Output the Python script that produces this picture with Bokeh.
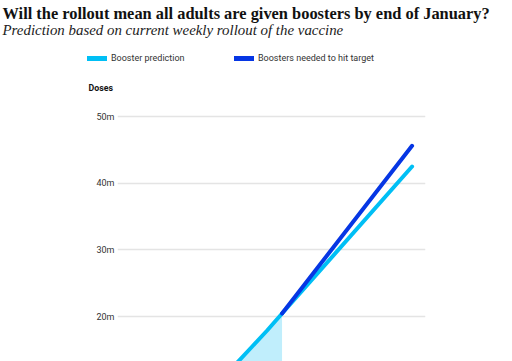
import pandas as pd
from bokeh.plotting import figure
from bokeh.layouts import column
from bokeh.models import Range1d, FixedTicker, Label, Legend, LegendItem
from bokeh.embed import file_html
from bokeh.resources import INLINE

# ---- data ----
actual_dates = ["2021-10-27", "2021-11-03", "2021-11-10", "2021-11-17", "2021-11-24", "2021-12-01"]
actual_doses = [7.9, 10.5, 13.1, 15.5, 17.9, 20.45]
proj_dates = ["2021-12-01", "2022-01-31"]
predicted = [20.45, 42.5]
needed = [20.45, 45.6]
y_ticks = [20, 30, 40, 50]
y_tick_labels = ["20m", "30m", "40m", "50m"]
series_names = ["Booster prediction", "Boosters needed to hit target"]

LIGHT = "#00bff5"
DARK = "#0636e4"
FILL = "#c0eefc"
SANS = "Roboto"
SERIF = "'Liberation Serif', serif"
NAN = float("nan")

ad = pd.to_datetime(actual_dates)
pdt = pd.to_datetime(proj_dates)

x_start = pd.Timestamp("2021-12-01") - pd.Timedelta(days=77.2)
x_end = x_start + pd.Timedelta(days=144.5)

# ---- header (title, subtitle, legend, axis title) ----
HEAD_H = 102
head = figure(width=512, height=HEAD_H, output_backend="svg", toolbar_location=None,
              x_range=Range1d(0, 1), y_range=Range1d(0, 1),
              min_border_left=0, min_border_right=0, min_border_top=0, min_border_bottom=0,
              x_axis_location=None, y_axis_location=None, frame_align=False)
head.outline_line_color = None
head.grid.visible = False


def lab(text, x, y, size, style="normal", color="#111111", font=SANS):
    head.add_layout(Label(x=x, y=HEAD_H - y, x_units="screen", y_units="screen", text=text,
                          text_font=font, text_font_size=size, text_font_style=style,
                          text_color=color, text_baseline="alphabetic", text_align="left"))


lab("Will the rollout mean all adults are given boosters by end of January?", 2, 13, "16.4px", "bold", font=SERIF)
lab("Prediction based on current weekly rollout of the vaccine", 2, 29, "14.9px", "italic", "#222222", font=SERIF)
lab("Doses", 88, 87, "8.8px", "bold")

for color, name, x in [(LIGHT, series_names[0], 87), (DARK, series_names[1], 234)]:
    r = head.line(x=[NAN], y=[NAN], line_color=color, line_width=5, line_cap="round")
    lg = Legend(items=[LegendItem(label=name, renderers=[r])], location=(x, HEAD_H - 62.5),
                orientation="horizontal", padding=0, margin=0, glyph_width=20, glyph_height=10,
                label_standoff=4, label_text_font=SANS, label_text_font_size="9px",
                label_text_color="#333333", background_fill_alpha=0, border_line_alpha=0)
    head.add_layout(lg, "center")

# ---- chart ----
p = figure(width=512, height=361 - HEAD_H, output_backend="svg", toolbar_location=None,
           x_axis_type="datetime",
           x_range=Range1d(x_start, x_end), y_range=Range1d(13.25, 50.9),
           min_border_left=117, min_border_right=87, min_border_top=8, min_border_bottom=0,
           x_axis_location=None, frame_align=False)
p.outline_line_color = None
p.xgrid.visible = False
p.ygrid.grid_line_color = "#e4e4e4"
p.ygrid.grid_line_width = 1.5
p.ygrid.ticker = FixedTicker(ticks=y_ticks)

ax = p.yaxis[0]
ax.ticker = FixedTicker(ticks=y_ticks)
ax.major_label_overrides = dict(zip(y_ticks, y_tick_labels))
ax.axis_line_color = None
ax.major_tick_line_color = None
ax.minor_tick_line_color = None
ax.major_tick_out = 0
ax.major_tick_in = 0
ax.major_label_standoff = 3
ax.major_label_text_font = SANS
ax.major_label_text_font_size = "9px"
ax.major_label_text_color = "#333333"

p.varea(x=ad, y1=0, y2=actual_doses, fill_color=FILL, fill_alpha=1)
p.line(ad, actual_doses, line_color=LIGHT, line_width=4, line_cap="round", line_join="round")
p.line(pdt, predicted, line_color=LIGHT, line_width=4, line_cap="round")
p.line(pdt, needed, line_color=DARK, line_width=4, line_cap="round")

layout = column(head, p, spacing=0)
open("out.html", "w").write(file_html(layout, INLINE))
